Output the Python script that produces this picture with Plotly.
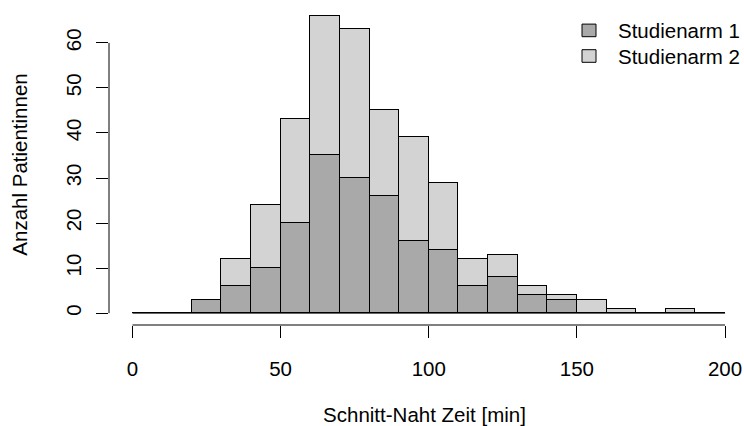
import plotly.graph_objects as go

# Histogram bin edges (minutes) and counts per bin
bin_edges = [0, 10, 20, 30, 40, 50, 60, 70, 80, 90, 100, 110, 120, 130, 140, 150, 160, 170, 180, 190, 200]
arm1_counts = [0, 0, 3, 6, 10, 20, 35, 30, 26, 16, 14, 6, 8, 4, 3, 0, 0, 0, 0, 0]
arm2_counts = [0, 0, 0, 6, 14, 23, 31, 33, 19, 23, 15, 6, 5, 2, 1, 3, 1, 0, 1, 0]
series_names = ["Studienarm 1", "Studienarm 2"]
series_colors = ["#A9A9A9", "#D3D3D3"]
x_ticks = [0, 50, 100, 150, 200]
y_ticks = [0, 10, 20, 30, 40, 50, 60]

centers = [(a + b) / 2 for a, b in zip(bin_edges[:-1], bin_edges[1:])]
widths = [b - a for a, b in zip(bin_edges[:-1], bin_edges[1:])]

FONT = "Liberation Sans, Arial, Helvetica, sans-serif"
FS = 20.5
W, H = 744, 426
ML, MR, MT, MB = 109, 4, 4, 101
PW, PH = W - ML - MR, H - MT - MB

fig = go.Figure()
for name, counts, color in zip(series_names, [arm1_counts, arm2_counts], series_colors):
    fig.add_trace(go.Bar(x=centers, y=counts, width=widths, name=name, showlegend=False,
                         marker=dict(color=color, line=dict(color="black", width=1))))

# baseline of the histogram (zero-height bins) and R-style axis lines
fig.add_shape(type="line", xref="x", yref="y", x0=bin_edges[0], x1=bin_edges[-1], y0=0, y1=0,
              line=dict(color="black", width=1), layer="below")
fig.add_shape(type="line", xref="x", yref="paper", x0=x_ticks[0], x1=x_ticks[-1], y0=0, y1=0,
              line=dict(color="black", width=1))
fig.add_shape(type="line", xref="paper", yref="y", x0=0, x1=0, y0=y_ticks[0], y1=y_ticks[-1],
              line=dict(color="black", width=1))

# legend (R-style: filled boxes and labels, top right)
def px2paper_x(px):
    return (px - ML) / PW

def px2paper_y(py):
    return (H - MB - py) / PH

legend_rows_y = [30.4, 56.0]
for name, color, ry in zip(series_names, series_colors, legend_rows_y):
    fig.add_shape(type="rect", xref="paper", yref="paper",
                  x0=px2paper_x(582), x1=px2paper_x(596),
                  y0=px2paper_y(ry - 6.3), y1=px2paper_y(ry + 6.3),
                  fillcolor=color, line=dict(color="black", width=1))
    fig.add_annotation(xref="paper", yref="paper", x=px2paper_x(616), y=px2paper_y(ry),
                       xanchor="left", yanchor="middle", showarrow=False, text=name,
                       font=dict(family=FONT, size=FS, color="black"))

fig.update_layout(
    width=W, height=H,
    margin=dict(l=ML, r=MR, t=MT, b=MB, autoexpand=False),
    paper_bgcolor="white", plot_bgcolor="white",
    barmode="stack", bargap=0,
    font=dict(family=FONT, size=FS, color="black"),
    showlegend=False,
    xaxis=dict(range=[-7.93, 205.06], tickvals=x_ticks, ticks="outside", ticklen=12,
               tickcolor="black", showgrid=False, zeroline=False, showline=False,
               ticklabelstandoff=13, automargin=False,
               title=dict(text="Schnitt-Naht Zeit [min]", standoff=33, font=dict(size=FS))),
    yaxis=dict(range=[-2.64, 68.64], tickvals=y_ticks, ticks="outside", ticklen=12,
               tickcolor="black", tickangle=-90, showgrid=False, zeroline=False, showline=False,
               ticklabelstandoff=7, automargin=False,
               title=dict(text="Anzahl Patientinnen", standoff=28, font=dict(size=FS))),
)

fig.write_html("out.html", config={"displayModeBar": False},
               post_script="document.body.style.margin='0';")
